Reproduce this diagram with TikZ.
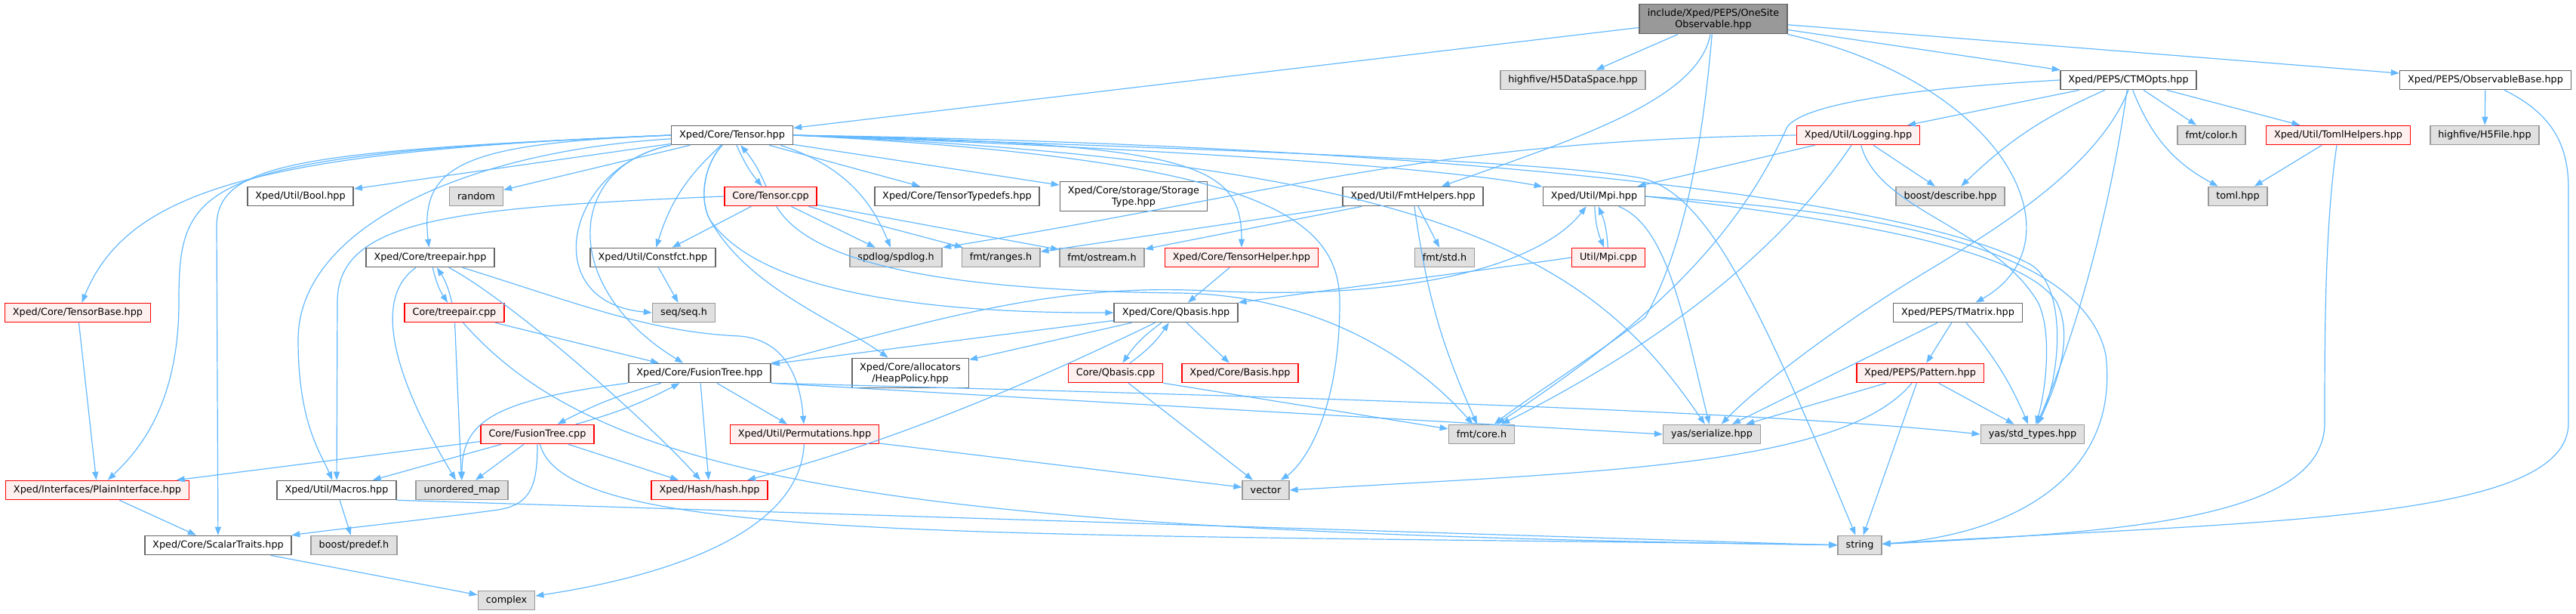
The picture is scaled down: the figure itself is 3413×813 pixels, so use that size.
\documentclass[tikz,border=0pt]{standalone}
\usepackage{fontspec}
\setmainfont{DejaVu Sans}
\usetikzlibrary{arrows.meta}
\definecolor{edgeblue}{HTML}{63B8FF}
\definecolor{extfill}{HTML}{E0E0E0}
\definecolor{extline}{HTML}{999999}
\definecolor{hdrline}{HTML}{666666}
\definecolor{cutfill}{HTML}{FFF0F0}
\definecolor{cutline}{HTML}{FF0000}
\definecolor{rootfill}{HTML}{999999}

\begin{document}
\begin{tikzpicture}[x=1pt, y=-1pt,
    every node/.style={font=\fontsize{12.8}{15}\selectfont, inner xsep=10.5pt, inner ysep=6pt, minimum height=25pt, align=center, line width=1.6pt},
    hdr/.style={draw=hdrline, fill=white},
    ext/.style={draw=extline, fill=extfill},
    cut/.style={draw=cutline, fill=cutfill},
    root/.style={draw=hdrline, fill=rootfill},
    dep/.style={draw=edgeblue, line width=1.2pt, -{Triangle[length=11pt,width=8pt]}}]
	\useasboundingbox (0,0) rectangle (3413,813);
	\node[root] (top) at (2270,25) {include/Xped/PEPS/OneSite\\Observable.hpp};
	\node[ext] (h5ds) at (2084,106) {highfive/H5DataSpace.hpp};
	\node[hdr] (ctm) at (2820,106) {Xped/PEPS/CTMOpts.hpp};
	\node[hdr] (obsb) at (3293,106) {Xped/PEPS/ObservableBase.hpp};
	\node[hdr] (tensor) at (970,179) {Xped/Core/Tensor.hpp};
	\node[cut] (logging) at (2462,179) {Xped/Util/Logging.hpp};
	\node[ext] (color) at (2930,179) {fmt/color.h};
	\node[cut] (tomlh) at (3098,179) {Xped/Util/TomlHelpers.hpp};
	\node[ext] (h5file) at (3292,179) {highfive/H5File.hpp};
	\node[hdr] (bool) at (398,260) {Xped/Util/Bool.hpp};
	\node[ext] (random) at (631,260) {random};
	\node[cut] (tcpp) at (1021,260) {Core/Tensor.cpp};
	\node[hdr] (typedefs) at (1268,260) {Xped/Core/TensorTypedefs.hpp};
	\node[hdr] (storage) at (1502,260) {Xped/Core/storage/Storage\\Type.hpp};
	\node[hdr] (fmth) at (1872,260) {Xped/Util/FmtHelpers.hpp};
	\node[hdr] (mpi) at (2112,260) {Xped/Util/Mpi.hpp};
	\node[ext] (describe) at (2584,260) {boost/describe.hpp};
	\node[ext] (toml) at (2965,260) {toml.hpp};
	\node[hdr] (tph) at (570,341) {Xped/Core/treepair.hpp};
	\node[hdr] (constfct) at (865,341) {Xped/Util/Constfct.hpp};
	\node[ext] (spdlog) at (1187,341) {spdlog/spdlog.h};
	\node[ext] (ranges) at (1326,341) {fmt/ranges.h};
	\node[ext] (ostream) at (1460,341) {fmt/ostream.h};
	\node[cut] (thelper) at (1645,341) {Xped/Core/TensorHelper.hpp};
	\node[ext] (fmtstd) at (1914,341) {fmt/std.h};
	\node[cut] (mpicpp) at (2131,341) {Util/Mpi.cpp};
	\node[cut] (tbase) at (103,414) {Xped/Core/TensorBase.hpp};
	\node[cut] (tpc) at (602,414) {Core/treepair.cpp};
	\node[ext] (seq) at (906,414) {seq/seq.h};
	\node[hdr] (qbh) at (1558,414) {Xped/Core/Qbasis.hpp};
	\node[hdr] (tmatrix) at (2594,414) {Xped/PEPS/TMatrix.hpp};
	\node[hdr] (fth) at (927,494) {Xped/Core/FusionTree.hpp};
	\node[hdr] (heap) at (1206,494) {Xped/Core/allocators\\/HeapPolicy.hpp};
	\node[cut] (qbc) at (1478,494) {Core/Qbasis.cpp};
	\node[cut] (basis) at (1643,494) {Xped/Core/Basis.hpp};
	\node[cut] (pattern) at (2544,494) {Xped/PEPS/Pattern.hpp};
	\node[cut] (ftc) at (712,575) {Core/FusionTree.cpp};
	\node[cut] (perm) at (1066,575) {Xped/Util/Permutations.hpp};
	\node[ext] (core) at (1963,575) {fmt/core.h};
	\node[ext] (ser) at (2268,575) {yas/serialize.hpp};
	\node[ext] (stdt) at (2693,575) {yas/std\_types.hpp};
	\node[cut] (plain) at (129,649) {Xped/Interfaces/PlainInterface.hpp};
	\node[hdr] (macros) at (446,649) {Xped/Util/Macros.hpp};
	\node[ext] (umap) at (612,649) {unordered\_map};
	\node[cut] (hash) at (940,649) {Xped/Hash/hash.hpp};
	\node[ext] (vector) at (1677,649) {vector};
	\node[hdr] (scalar) at (289,722) {Xped/Core/ScalarTraits.hpp};
	\node[ext] (predef) at (469,722) {boost/predef.h};
	\node[ext] (string) at (2464,722) {string};
	\node[ext] (complex) at (671,795) {complex};
	\draw[dep] (top) -- (tensor);
	\draw[dep] (top) -- (h5ds);
	\draw[dep] (top) .. controls (2250,130) and (2100,180) .. (fmth);
	\draw[dep] (top) .. controls (2255,200) and (2230,330) .. (2180,420) .. controls (2100,480) and (2020,530) .. (core);
	\draw[dep] (top) -- (ctm);
	\draw[dep] (top) -- (obsb);
	\draw[dep] (top.south east) .. controls (2660,110) and (2760,320) .. (tmatrix);
	\draw[dep] (tensor.west) .. controls (350,200) and (170,250) .. (tbase);
	\draw[dep] (tensor.west) .. controls (260,205) and (237,240) .. (237,400) .. controls (237,540) and (180,600) .. (plain);
	\draw[dep] (tensor.west) .. controls (400,200) and (287,215) .. (287,300) -- (scalar);
	\draw[dep] (tensor) -- (bool);
	\draw[dep] (tensor) -- (random);
	\draw[dep] (tensor.west) .. controls (620,190) and (555,215) .. (tph);
	\draw[dep] (tensor) .. controls (620,200) and (395,300) .. (395,450) .. controls (395,560) and (425,600) .. (macros);
	\draw[dep] (tensor) to[bend right=15] (constfct);
	\draw[dep] (tensor.south west) .. controls (750,220) and (710,400) .. (seq.west);
	\draw[dep] (tensor.south west) .. controls (750,220) and (740,380) .. (fth);
	\draw[dep] (tensor) to[bend right=8] (tcpp);
	\draw[dep] (tensor) to[bend left=25] (spdlog);
	\draw[dep] (tensor) -- (typedefs);
	\draw[dep] (tensor) -- (storage);
	\draw[dep] (tensor.east) .. controls (1580,190) and (1645,215) .. (thelper);
	\draw[dep] (tensor) .. controls (935,215) and (925,260) .. (940,290) .. controls (1000,380) and (1200,415) .. (qbh.west);
	\draw[dep] (tensor) .. controls (935,215) and (925,260) .. (940,290) .. controls (990,380) and (1100,420) .. (heap);
	\draw[dep] (tensor.east) .. controls (1500,195) and (1900,220) .. (mpi);
	\draw[dep] (tensor.east) .. controls (1650,210) and (1775,280) .. (1775,400) .. controls (1775,560) and (1720,620) .. (vector);
	\draw[dep] (tensor.east) .. controls (1700,200) and (2050,215) .. (2170,235) .. controls (2260,250) and (2330,400) .. (string);
	\draw[dep] (tensor.east) .. controls (1950,215) and (2120,360) .. (ser);
	\draw[dep] (tensor.east) .. controls (1800,190) and (2500,250) .. (2690,350) .. controls (2740,380) and (2730,500) .. (stdt);
	\draw[dep] (tcpp) to[bend right=8] (tensor);
	\draw[dep] (tcpp) -- (constfct);
	\draw[dep] (tcpp.west) .. controls (600,275) and (447,290) .. (447,400) -- (macros);
	\draw[dep] (tcpp) -- (spdlog);
	\draw[dep] (tcpp) -- (ranges);
	\draw[dep] (tcpp) -- (ostream);
	\draw[dep] (tcpp) .. controls (1080,360) and (1300,385) .. (1560,388) .. controls (1750,390) and (1880,480) .. (core);
	\draw[dep] (tph) to[bend right=10] (tpc);
	\draw[dep] (tpc) to[bend right=10] (tph);
	\draw[dep] (tph) .. controls (500,390) and (510,480) .. (umap);
	\draw[dep] (tph) .. controls (680,400) and (860,560) .. (hash);
	\draw[dep] (tph) .. controls (760,400) and (860,440) .. (980,445) .. controls (1040,450) and (1060,500) .. (perm);
	\draw[dep] (tpc) -- (umap);
	\draw[dep] (tpc) -- (fth);
	\draw[dep] (tpc) .. controls (800,640) and (1200,705) .. (string);
	\draw[dep] (fth) to[bend right=6] (ftc);
	\draw[dep] (ftc) to[bend right=6] (fth);
	\draw[dep] (fth) -- (hash);
	\draw[dep] (fth) -- (perm);
	\draw[dep] (fth.north east) .. controls (1250,420) and (1400,375) .. (1600,385) .. controls (1900,400) and (2050,340) .. (mpi);
	\draw[dep] (fth.south east) -- (ser.west);
	\draw[dep] (fth.south east) .. controls (1500,520) and (2300,540) .. (stdt.west);
	\draw[dep] (fth.south west) .. controls (650,530) and (612,560) .. (umap);
	\draw[dep] (ftc) -- (plain);
	\draw[dep] (ftc) -- (macros);
	\draw[dep] (ftc) -- (umap);
	\draw[dep] (ftc) .. controls (712,640) and (705,668) .. (660,675) .. controls (550,690) and (450,700) .. (scalar);
	\draw[dep] (ftc) -- (hash);
	\draw[dep] (ftc) .. controls (750,720) and (1300,705) .. (string);
	\draw[dep] (perm) -- (vector);
	\draw[dep] (perm) .. controls (1060,700) and (900,760) .. (complex);
	\draw[dep] (qbh) -- (fth);
	\draw[dep] (qbh) -- (heap);
	\draw[dep] (qbh) to[bend right=10] (qbc);
	\draw[dep] (qbc) to[bend right=10] (qbh);
	\draw[dep] (qbh) -- (basis);
	\draw[dep] (qbh) .. controls (1380,500) and (1200,580) .. (hash);
	\draw[dep] (qbc) -- (vector);
	\draw[dep] (qbc.south east) -- (core);
	\draw[dep] (thelper) -- (qbh);
	\draw[dep] (mpi) to[bend right=10] (mpicpp);
	\draw[dep] (mpicpp) to[bend right=10] (mpi);
	\draw[dep] (mpi) .. controls (2210,300) and (2230,420) .. (ser);
	\draw[dep] (mpi.east) .. controls (2450,290) and (2680,330) .. (2725,400) .. controls (2750,450) and (2720,520) .. (stdt);
	\draw[dep] (mpi.east) .. controls (2500,280) and (2760,330) .. (2790,470) .. controls (2810,640) and (2650,710) .. (string);
	\draw[dep] (mpicpp.west) .. controls (1950,360) and (1750,385) .. (qbh.north east);
	\draw[dep] (logging.west) .. controls (1900,185) and (1700,255) .. (spdlog.north east);
	\draw[dep] (logging) -- (mpi);
	\draw[dep] (logging) -- (describe);
	\draw[dep] (logging) .. controls (2380,300) and (2250,430) .. (core);
	\draw[dep] (logging) .. controls (2490,280) and (2640,300) .. (2700,400) .. controls (2720,440) and (2710,520) .. (stdt);
	\draw[dep] (fmth) -- (ranges);
	\draw[dep] (fmth) -- (ostream);
	\draw[dep] (fmth) -- (fmtstd);
	\draw[dep] (fmth) to[bend right=8] (core);
	\draw[dep] (ctm.west) .. controls (2480,120) and (2375,145) .. (2366,172) .. controls (2290,340) and (2150,450) .. (core);
	\draw[dep] (ctm) -- (logging);
	\draw[dep] (ctm) to[bend right=10] (describe);
	\draw[dep] (ctm.south) .. controls (2780,220) and (2650,300) .. (2560,355) .. controls (2450,420) and (2330,510) .. (ser);
	\draw[dep] (ctm) .. controls (2800,250) and (2760,420) .. (stdt);
	\draw[dep] (ctm) to[bend right=20] (toml);
	\draw[dep] (ctm) -- (color);
	\draw[dep] (ctm) -- (tomlh);
	\draw[dep] (tomlh) -- (toml);
	\draw[dep] (tomlh) .. controls (3080,300) and (3080,450) .. (3080,560) .. controls (3080,690) and (2800,705) .. (string);
	\draw[dep] (obsb) -- (h5file);
	\draw[dep] ([xshift=25pt]obsb.south) .. controls (3380,150) and (3403,190) .. (3403,250) -- (3403,560) .. controls (3403,690) and (3000,690) .. (string);
	\draw[dep] (tmatrix) -- (pattern);
	\draw[dep] (tmatrix) -- (ser);
	\draw[dep] (tmatrix) to[bend left=8] (stdt);
	\draw[dep] (pattern) -- (ser);
	\draw[dep] (pattern) -- (stdt);
	\draw[dep] (pattern) .. controls (2440,620) and (2100,625) .. (vector.east);
	\draw[dep] (pattern) -- (string);
	\draw[dep] (tbase) -- (plain);
	\draw[dep] (plain) -- (scalar);
	\draw[dep] (macros) -- (predef);
	\draw[dep] (macros.south east) -- (string.west);
	\draw[dep] (scalar) -- (complex);
	\draw[dep] (constfct) -- (seq);
\end{tikzpicture}
\end{document}
